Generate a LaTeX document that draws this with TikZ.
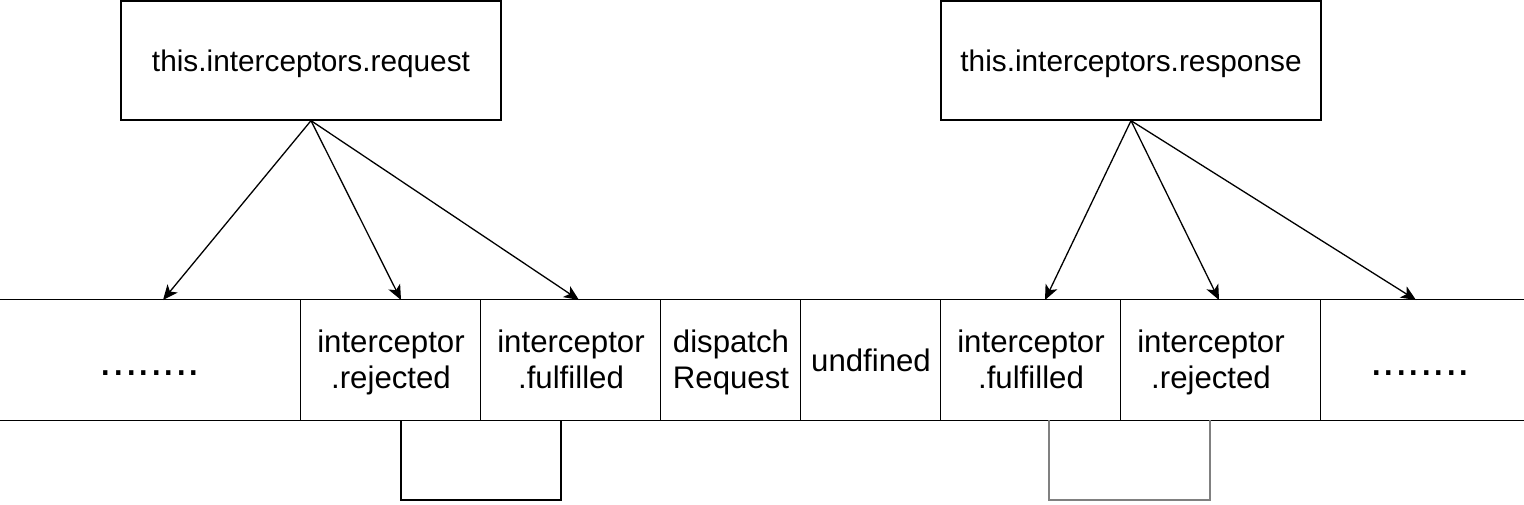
\documentclass[tikz,border=0pt]{standalone}
\usepackage{fontspec}
\setmainfont{Liberation Sans}
\usetikzlibrary{arrows.meta}
\begin{document}
\begin{tikzpicture}[x=0.5pt,y=-0.5pt,
  line width=0.65pt,
  topbox/.style={draw, minimum width=190pt, minimum height=59.5pt, inner sep=0pt,
    text height=12pt, text depth=1pt,
    font=\fontsize{14.9}{18}\selectfont},
  cell/.style={minimum height=60pt, inner sep=0pt, align=center,
    font=\fontsize{15.6}{18}\selectfont},
  celltext/.style={inner sep=0pt, align=center,
    font=\fontsize{15.6}{18}\selectfont},
  dots/.style={font=\fontsize{22.5}{26}\selectfont},
  arr/.style={-{Stealth[length=7.5pt,width=6.5pt,inset=2pt]}},
  loopline/.style={line width=0.65pt}
]
\useasboundingbox (0,0) rectangle (1524,504);
% top boxes
\node[topbox] (req) at (311,60.5) {this.interceptors.request};
\node[topbox] (res) at (1131,60.5) {this.interceptors.response};
% cells (frames)
\node[cell, minimum width=150.5pt] (c1) at (150.5,360) {};
\node[cell, minimum width=90pt] (c2) at (391,360) {};
\node[cell, minimum width=90pt] (c3) at (571,360) {};
\node[cell, minimum width=70pt] (c4) at (731,360) {};
\node[cell, minimum width=70pt] (c5) at (871,360) {};
\node[cell, minimum width=90pt] (c6) at (1031,360) {};
\node[cell, minimum width=100pt] (c7) at (1221,360) {};
\node[cell, minimum width=101.5pt] (c8) at (1422.5,360) {};
% cell texts
\node[dots] (d1) at (150,373) {........};
\node[celltext] (t2x) at (391,363) {interceptor\strut\\.rejected\strut};
\node[celltext] (t3x) at (571,363) {interceptor\strut\\.fulfilled\strut};
\node[celltext] (t4x) at (731,363) {dispatch\strut\\Request\strut};
\node[celltext] (t5x) at (871,364) {undfined\strut};
\node[celltext] (t6x) at (1031,363) {interceptor\strut\\.fulfilled\strut};
\node[celltext] (t7x) at (1211,363) {interceptor\strut\\.rejected\strut};
\node[dots] (d8) at (1420,373) {........};
% horizontal lines
\draw (c1.north west) -- (c8.north east);
\draw (c1.south west) -- (c8.south east);
% dividers
\foreach \c in {c2,c3,c4,c5,c6,c7,c8}
  \draw (\c.north west) -- (\c.south west);
% arrow targets
\coordinate (t1) at (163,300);
\coordinate (t2) at (401,300);
\coordinate (t3) at (579,300);
\coordinate (t4) at (1045,300);
\coordinate (t5) at (1219,300);
\coordinate (t6) at (1416,300);
\draw[arr] (req.south) -- (t1);
\draw[arr] (req.south) -- (t2);
\draw[arr] (req.south) -- (t3);
\draw[arr] (res.south) -- (t4);
\draw[arr] (res.south) -- (t5);
\draw[arr] (res.south) -- (t6);
% loops below
\coordinate (l1) at (401,420);
\coordinate (l2) at (561,420);
\coordinate (r1) at (1049,420);
\coordinate (r2) at (1210,420);
\draw[loopline] (l1) -- ++(0,80) -| (l2);
\draw[loopline, draw=black!50] (r1) -- ++(0,80) -| (r2);
\end{tikzpicture}
\end{document}
